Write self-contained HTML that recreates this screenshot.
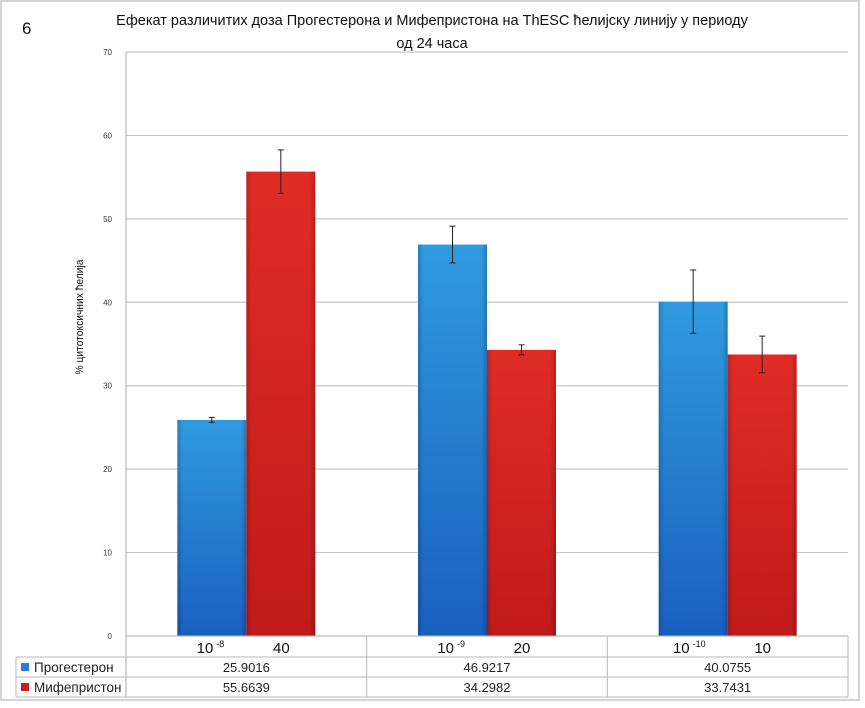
<!DOCTYPE html>
<html><head><meta charset="utf-8"><style>
html,body{margin:0;padding:0;background:#fff;}
svg{display:block;font-family:"Liberation Sans",sans-serif;}
</style></head><body>
<svg id="chart" width="865" height="708" viewBox="0 0 865 708" xmlns="http://www.w3.org/2000/svg">
<defs>
<linearGradient id="gb" x1="0" y1="0" x2="0" y2="1"><stop offset="0" stop-color="#2f9be0"/><stop offset="1" stop-color="#1a5fbf"/></linearGradient>
<linearGradient id="gbh" x1="0" y1="0" x2="1" y2="0"><stop offset="0" stop-color="#000" stop-opacity="0.18"/><stop offset="0.08" stop-color="#000" stop-opacity="0"/><stop offset="0.92" stop-color="#000" stop-opacity="0"/><stop offset="1" stop-color="#000" stop-opacity="0.2"/></linearGradient>
<linearGradient id="gr" x1="0" y1="0" x2="0" y2="1"><stop offset="0" stop-color="#e02c25"/><stop offset="1" stop-color="#c01a1a"/></linearGradient>
</defs>
<rect x="1" y="1" width="858" height="699" fill="#fff" stroke="#d4d4d4" stroke-width="2"/>
<text x="22" y="34" font-size="17" fill="#111">6</text>
<text x="432" y="25" font-size="14.5" text-anchor="middle" fill="#111">Ефекат различитих доза Прогестерона и Мифепристона на ThESC ћелијску линију у периоду</text>
<text x="432" y="48" font-size="14.5" text-anchor="middle" fill="#111">од 24 часа</text>
<text transform="translate(83,317) rotate(-90)" font-size="11" text-anchor="middle" fill="#111" textLength="115" lengthAdjust="spacingAndGlyphs">% цитотоксичних ћелија</text>
<g id="grid"></g><g id="bars"></g><g id="table"></g>
</svg>
<script>
const categories = ["10 -8|40", "10 -9|20", "10 -10|10"];
const seriesNames = ["Прогестерон", "Мифепристон"];
const progesterone = [25.9016, 46.9217, 40.0755];
const mifepristone = [55.6639, 34.2982, 33.7431];
const progErr = [0.3, 2.2, 3.8];
const mifeErr = [2.6, 0.6, 2.2];
const yTicks = [0, 10, 20, 30, 40, 50, 60, 70];

const NS = "http://www.w3.org/2000/svg";
const X0 = 126, X1 = 848, Y0 = 636, Y1 = 52, YMAX = 70;
const y = v => Y0 - (v / YMAX) * (Y0 - Y1);
const gw = (X1 - X0) / categories.length;
const gx = i => X0 + gw * (i + 0.5);
function mk(tag, attrs, parent) { const e = document.createElementNS(NS, tag); for (const k in attrs) e.setAttribute(k, attrs[k]); parent.appendChild(e); return e; }
const grid = document.getElementById('grid'), bars = document.getElementById('bars'), table = document.getElementById('table');

yTicks.forEach(t => {
  const l = mk('line', {x1: X0, x2: X1, y1: y(t), y2: y(t), stroke: '#c8c8c8', 'stroke-width': 1.2}, grid);
  
  
  const tx = mk('text', {x: 112, y: y(t) + 3, 'font-size': 8, 'text-anchor': 'end', fill: '#333'}, grid);
  tx.textContent = t;
  
  
});
const ax = mk('line', {x1: X0, x2: X0, y1: Y1, y2: 697, stroke: '#b8b8b8', 'stroke-width': 1.2}, grid);



const BW = 69;
const series = [progesterone, mifepristone], errs = [progErr, mifeErr], fills = ['url(#gb)', 'url(#gr)'];
categories.forEach((c, i) => {
  series.forEach((s, k) => {
    const bx = gx(i) - BW + k * BW, v = s[i];
    const r = mk('rect', {x: bx, y: y(v), width: BW, height: Y0 - y(v), fill: fills[k]}, bars);
    
    
    const sh = mk('rect', {x: bx, y: y(v), width: BW, height: Y0 - y(v), fill: 'url(#gbh)'}, bars);
    
    
    const cx = bx + BW / 2, e = errs[k][i];
    const g = mk('g', {stroke: '#222', 'stroke-width': 1}, bars);
    
    
    mk('line', {x1: cx, x2: cx, y1: y(v + e), y2: y(v - e)}, g);
    mk('line', {x1: cx - 3, x2: cx + 3, y1: y(v + e), y2: y(v + e)}, g);
    mk('line', {x1: cx - 3, x2: cx + 3, y1: y(v - e), y2: y(v - e)}, g);
  });
});

// data table
const R0 = 636, R1 = 657, R2 = 677, R3 = 697, TL = 16;
function line(x1, y1, x2, y2, name) { const l = mk('line', {x1, y1, x2, y2, stroke: '#b8b8b8', 'stroke-width': 1}, table);   }
line(X0, R0, X1, R0, 'table-line');
line(TL, R1, X1, R1, 'table-line');
line(TL, R2, X1, R2, 'table-line');
line(TL, R3, X1, R3, 'table-line');
line(TL, R1, TL, R3, 'table-line');
line(X1, R0, X1, R3, 'table-line');
categories.forEach((c, i) => { if (i > 0) line(X0 + gw * i, R0, X0 + gw * i, R3, 'table-line'); });
categories.forEach((c, i) => {
  const [a, b] = c.split('|'); const [base, exp] = a.split(' ');
  const t = mk('text', {x: gx(i) - 22, y: 653, 'font-size': 15, 'text-anchor': 'end', fill: '#111'}, table);
  t.textContent = base;
  
  
  const ts = mk('tspan', {dy: -6, 'font-size': 9, dx: 3}, t); ts.textContent = exp;
  const t2 = mk('text', {x: gx(i) + 35, y: 653, 'font-size': 15, 'text-anchor': 'middle', fill: '#111'}, table);
  t2.textContent = b;
  
  
  series.forEach((s, k) => {
    const v = mk('text', {x: gx(i), y: (k ? R2 : R1) + 15, 'font-size': 13, 'text-anchor': 'middle', fill: '#222'}, table);
    v.textContent = s[i].toFixed(4);
    
    
  });
});
seriesNames.forEach((n, k) => {
  const yy = k ? R2 : R1;
  const sw = mk('rect', {x: 21, y: yy + 6, width: 8, height: 8, fill: k ? '#c8201e' : '#2a7fd0'}, table);
  
  
  const t = mk('text', {x: 34, y: yy + 15, 'font-size': 13.5, fill: '#222'}, table);
  t.textContent = n;
  
  
});
</script>
</body></html>
